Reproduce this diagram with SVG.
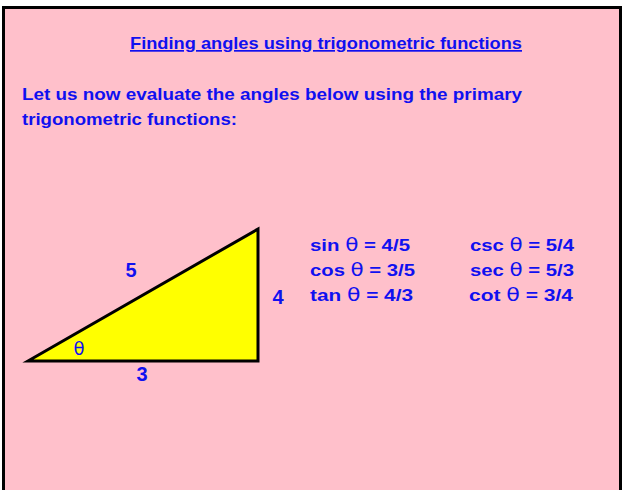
<svg xmlns="http://www.w3.org/2000/svg" width="623" height="490" viewBox="0 0 623 490">
<style>
.t{font-family:"Liberation Sans",Arial,sans-serif;font-weight:bold;fill:#1010f0}
.f{font-size:17px}
.n{font-size:20px}
.th{font-family:"DejaVu Sans",sans-serif;font-weight:normal;font-size:18px}
</style>
<rect x="3.5" y="7.5" width="617" height="490" fill="#ffc0cb" stroke="#000" stroke-width="3"/>
<g id="title">
<text class="t" x="326" y="49" font-size="17" text-anchor="middle" textLength="392" lengthAdjust="spacingAndGlyphs" text-decoration="underline">Finding angles using trigonometric functions</text>
</g>
<g id="intro">
<text class="t" x="22" y="100" font-size="17" textLength="500" lengthAdjust="spacingAndGlyphs">Let us now evaluate the angles below using the primary</text>
<text class="t" x="22" y="125" font-size="17" textLength="215" lengthAdjust="spacingAndGlyphs">trigonometric functions:</text>
</g>
<g id="triangle">
<polygon points="28,361 258,229 258,361" fill="#ffff00" stroke="#000" stroke-width="3" stroke-linejoin="miter"/>
<text class="t n" x="131" y="277" text-anchor="middle">5</text>
<text class="t n" x="278" y="304" text-anchor="middle">4</text>
<text class="t n" x="142" y="381" text-anchor="middle">3</text>
<text x="79" y="355" class="th" fill="#1010f0" text-anchor="middle">θ</text>
</g>
<g id="ratios">
<text class="t f" x="310" y="251" textLength="100" lengthAdjust="spacingAndGlyphs">sin <tspan class="th">θ</tspan> = 4/5</text>
<text class="t f" x="310" y="276" textLength="105" lengthAdjust="spacingAndGlyphs">cos <tspan class="th">θ</tspan> = 3/5</text>
<text class="t f" x="310" y="301" textLength="103" lengthAdjust="spacingAndGlyphs">tan <tspan class="th">θ</tspan> = 4/3</text>
<text class="t f" x="470" y="251" textLength="104" lengthAdjust="spacingAndGlyphs">csc <tspan class="th">θ</tspan> = 5/4</text>
<text class="t f" x="470" y="276" textLength="104" lengthAdjust="spacingAndGlyphs">sec <tspan class="th">θ</tspan> = 5/3</text>
<text class="t f" x="469" y="301" textLength="104" lengthAdjust="spacingAndGlyphs">cot <tspan class="th">θ</tspan> = 3/4</text>
</g>
</svg>
